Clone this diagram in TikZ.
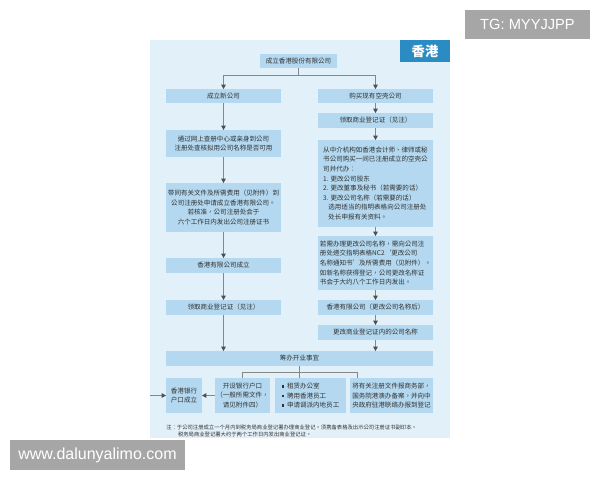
\documentclass[tikz,border=0pt]{standalone}
\usepackage{fontspec}
\setmainfont{Noto Sans CJK TC}
\newfontfamily\wmfont{Liberation Sans}
\usetikzlibrary{arrows.meta}

\definecolor{panelblue}{RGB}{226,240,249}
\definecolor{boxblue}{RGB}{179,216,239}
\definecolor{tabblue}{RGB}{43,140,196}
\definecolor{txtgray}{RGB}{50,50,50}
\definecolor{linegray}{RGB}{135,135,135}
\definecolor{tipgray}{RGB}{80,80,80}
\definecolor{wmgray}{RGB}{166,166,166}

\def\sqbul{\rule[0.6pt]{2pt}{2pt}\hspace{2pt}}

\tikzset{
	box/.style={fill=boxblue, inner sep=0pt, outer sep=0pt, text=txtgray, align=center, font=\fontsize{4.9}{7.2}\selectfont},
	conn/.style={draw=linegray, line width=0.6pt},
	arr/.style={conn, -{Triangle[width=3.4pt,length=3.2pt,color=tipgray]}},
	wmbox/.style={fill=wmgray, text=white, inner sep=0pt},
}

\begin{document}
\begin{tikzpicture}[x=0.75pt, y=-0.75pt]
			%%%%% START %%%%%
			
			\fill[white] (0,0) rectangle (600,480);
			\useasboundingbox (0,0) rectangle (600,480);
			
			\fill[panelblue] (150,40) rectangle (450,438);
			\node[fill=tabblue, text=white, inner sep=0pt, minimum width=37.5pt, minimum height=16.5pt, font=\bfseries\fontsize{10}{12}\selectfont] (tab) at (425,51) {香港};
			
			\node[box, minimum width=57.75pt, minimum height=10.5pt] (found) at (298.5,61) {成立香港股份有限公司};
			
			% left column
			\node[box, minimum width=86.25pt, minimum height=10.5pt] (newco) at (223.5,96) {成立新公司};
			\node[box, minimum width=86.25pt, minimum height=20.25pt] (search) at (223.5,143.5) {通过网上查册中心或亲身到公司\\注册处查核拟用公司名称是否可用};
			\node[box, minimum width=86.25pt, minimum height=36.75pt] (apply) at (223.5,207.5) {带同有关文件及所需费用（见附件）到\\公司注册处申请成立香港有限公司。\\若核准，公司注册处会于\\六个工作日内发出公司注册证书};
			\node[box, minimum width=86.25pt, minimum height=11.25pt] (ltd) at (223.5,265.5) {香港有限公司成立};
			\node[box, minimum width=86.25pt, minimum height=11.25pt] (brleft) at (223.5,307.5) {领取商业登记证（见注）};
			
			% right column
			\node[box, minimum width=86.25pt, minimum height=10.5pt] (buy) at (375.5,96) {购买现有空壳公司};
			\node[box, minimum width=86.25pt, minimum height=11.25pt] (brright) at (375.5,120.5) {领取商业登记证（见注）};
			\node[box, align=left, minimum width=86.25pt, minimum height=65.25pt] (agent) at (375.5,183.5) {从中介机构如香港会计师、律师或秘\\书公司购买一间已注册成立的空壳公\\司并代办：\\1. 更改公司股东\\2. 更改董事及秘书（若需要的话）\\3. 更改公司名称（若需要的话）\\\hspace*{0.8em}选用适当的指明表格向公司注册处\\\hspace*{0.8em}处长申报有关资料。};
			\node[box, align=left, minimum width=86.25pt, minimum height=40.5pt] (rename) at (375.5,263) {若需办理更改公司名称，需向公司注\\册处递交指明表格NC2‘更改公司\\名称通知书’及所需费用（见附件）。\\如新名称获得登记，公司更改名称证\\书会于大约八个工作日内发出。};
			\node[box, minimum width=86.25pt, minimum height=11.25pt] (newname) at (375.5,307.5) {香港有限公司（更改公司名称后）};
			\node[box, minimum width=86.25pt, minimum height=11.25pt] (bizname) at (375.5,332.5) {更改商业登记证内的公司名称};
			
			\node[box, minimum width=200.25pt, minimum height=11.25pt] (prep) at (299.5,358.5) {筹办开业事宜};
			
			% bottom row
			\node[box, minimum width=27pt, minimum height=26.25pt] (bankok) at (184,395.5) {香港银行\\户口成立};
			\node[box, minimum width=41.25pt, minimum height=26.25pt] (bank) at (242.5,395.5) {开设银行户口\\（一般所需文件，\\请见附件四）};
			\node[box, align=left, minimum width=53.25pt, minimum height=26.25pt] (office) at (310.5,395.5) {\sqbul 租赁办公室\\\sqbul 聘用香港员工\\\sqbul 申请调派内地员工};
			\node[box, minimum width=62.25pt, minimum height=26.25pt] (filing) at (391.5,395.5) {将有关注册文件报商务部，\\国务院港澳办备案，并向中\\央政府驻港联络办报到登记};
			
			\node[anchor=west, align=left, inner sep=0pt, text=txtgray, font=\fontsize{4}{4.8}\selectfont] (note) at (166,431) {注：于公司注册成立一个月内到税务局商业登记署办理商业登记。须携备表格及出示公司注册证书副印本。\\\hspace*{2.2em}税务局商业登记署大约于两个工作日内发出商业登记证。};
			
			% connectors
			\draw[arr] (found.south) -- ++(0,7) -| (newco.north);
			\draw[arr] (found.south) -- ++(0,7) -| (buy.north);
			\foreach \a/\b in {newco/search, search/apply, apply/ltd, ltd/brleft, buy/brright, brright/agent, agent/rename, rename/newname, newname/bizname}
				\draw[arr] (\a.south) -- (\b.north);
			\draw[arr] (brleft.south) -- (brleft.south |- prep.north);
			\draw[arr] (bizname.south) -- (bizname.south |- prep.north);
			
			\coordinate (fork) at (299.5,372);
			\draw[conn] (prep.south) -- (prep.south |- office.north);
			\draw[conn] (bank.north) |- (fork) -| ([xshift=5.25pt]filing.north west);
			\draw[arr] (bank.west) -- (bankok.east);
			\coordinate (inlet) at (150,395.5);
			\draw[arr] (inlet) -- (bankok.west);
			
			% overlays
			\node[wmbox, minimum width=93.75pt, minimum height=21.75pt, font=\wmfont\fontsize{11}{12}\selectfont] (tg) at (527.5,24.5) {TG: MYYJJPP};
			\node[wmbox, minimum width=131.25pt, minimum height=22.5pt, font=\wmfont\fontsize{12}{13}\selectfont] (site) at (97.5,455) {www.dalunyalimo.com};
			
			%%%%% END %%%%%
\end{tikzpicture}
\end{document}
